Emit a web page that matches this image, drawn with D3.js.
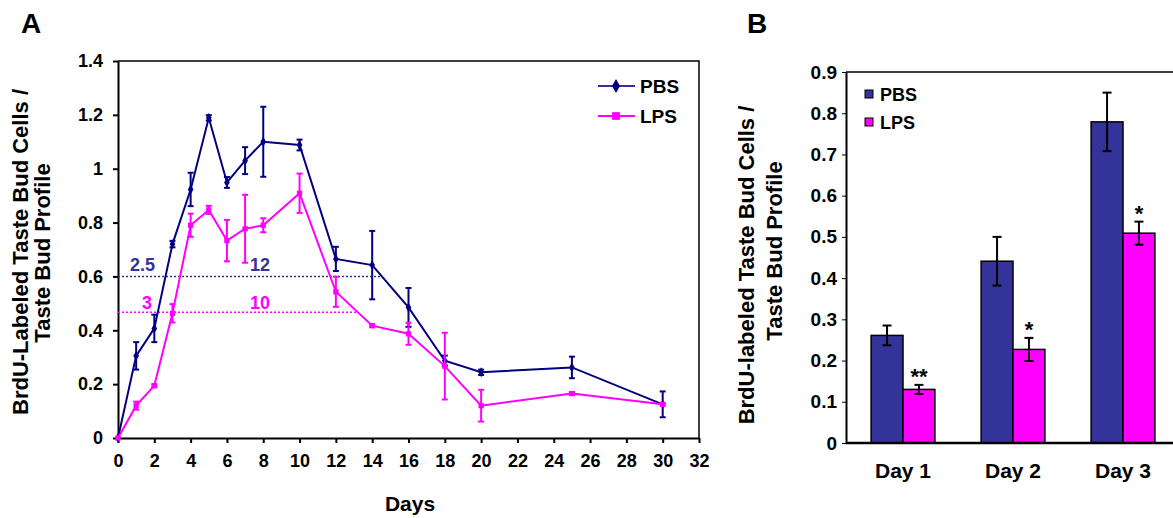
<!DOCTYPE html>
<html>
<head>
<meta charset="utf-8">
<script src="https://cdn.jsdelivr.net/npm/d3@7"></script>
<style>
  body { margin: 0; background: #fff; }
  svg { font-family: "Liberation Sans", Arial, Helvetica, sans-serif; font-weight: bold; }
  .axis path, .axis line { stroke: #000; }
</style>
</head>
<body>
<div id="chart"></div>
<script>
// panel A: time course
var daysA = [0, 1, 2, 3, 4, 5, 6, 7, 8, 10, 12, 14, 16, 18, 20, 25, 30];
var pbsMean = [0, 0.305, 0.407, 0.72, 0.923, 1.189, 0.949, 1.03, 1.10, 1.088, 0.665, 0.642, 0.485, 0.287, 0.244, 0.262, 0.125];
var pbsErr  = [0, 0.051, 0.051, 0.012, 0.062, 0.01, 0.02, 0.05, 0.13, 0.02, 0.045, 0.127, 0.072, 0.019, 0.01, 0.04, 0.048];
var lpsMean = [0, 0.12, 0.194, 0.463, 0.79, 0.847, 0.733, 0.777, 0.79, 0.909, 0.543, 0.417, 0.387, 0.267, 0.12, 0.165, 0.125];
var lpsErr  = [0, 0.015, 0.005, 0.034, 0.043, 0.015, 0.077, 0.126, 0.026, 0.073, 0.056, 0.005, 0.041, 0.124, 0.059, 0.005, 0.005];
var xTicksA = d3.range(0, 33, 2);
var yTicksA = [0, 0.2, 0.4, 0.6, 0.8, 1, 1.2, 1.4];
// half-max guide lines and their day labels
var halfLines = [
  {series: 'PBS', value: 0.6, endDay: 14.5, labels: [{text: '2.5', day: 0.66}, {text: '12', day: 7.27}]},
  {series: 'LPS', value: 0.467, endDay: 13.2, labels: [{text: '3', day: 1.32}, {text: '10', day: 7.27}]}
];

// panel B: bars
var daysB = ['Day 1', 'Day 2', 'Day 3'];
var seriesB = ['PBS', 'LPS'];
var pbsB = [0.261, 0.441, 0.779];
var pbsBErr = [0.024, 0.059, 0.071];
var lpsB = [0.13, 0.227, 0.509];
var lpsBErr = [0.011, 0.028, 0.028];
var starsB = ['**', '*', '*'];
var yTicksB = d3.range(0, 0.91, 0.1);

var colA = {PBS: '#000080', LPS: '#ff00ff'};
var colB = {PBS: '#333399', LPS: '#ff00ff'};
var guideCol = {PBS: '#333399', LPS: '#ff00ff'};

var svg = d3.select('#chart').append('svg')
  .attr('width', 1173)
  .attr('height', 518);

// ---------- panel A ----------
var xA = d3.scaleLinear().domain([0, 32]).range([118, 699]);
var yA = d3.scaleLinear().domain([0, 1.4]).range([438, 61]);

svg.append('text').attr('x', 21).attr('y', 33).attr('font-size', 28).text('A');

// box top/right
svg.append('path')
  .attr('d', 'M' + xA(0) + ',' + yA(1.4) + 'H' + xA(32) + 'V' + yA(0))
  .attr('fill', 'none').attr('stroke', '#000').attr('stroke-width', 1.5);

var axA = svg.append('g').attr('class', 'axis')
  .attr('transform', 'translate(0,' + yA(0) + ')')
  .call(d3.axisBottom(xA).tickValues(xTicksA).tickFormat(d3.format('d'))
    .tickSize(5).tickSizeOuter(0).tickPadding(11));
var ayA = svg.append('g').attr('class', 'axis')
  .attr('transform', 'translate(' + xA(0) + ',0)')
  .call(d3.axisLeft(yA).tickValues(yTicksA).tickFormat(function(d) { return d3.format('')(+d.toFixed(1)); })
    .tickSize(5).tickSizeOuter(0).tickPadding(10));
[axA, ayA].forEach(function(g) {
  g.selectAll('path').attr('stroke-width', 2);
  g.selectAll('line').attr('stroke-width', 2);
  g.selectAll('text').attr('font-size', 18).attr('font-family', null).attr('fill', '#000');
});

svg.append('text').attr('x', 410).attr('y', 511).attr('text-anchor', 'middle')
  .attr('font-size', 21).text('Days');
svg.append('text').attr('transform', 'translate(28,252) rotate(-90)').attr('text-anchor', 'middle')
  .attr('font-size', 22).text('BrdU-Labeled Taste Bud Cells /');
svg.append('text').attr('transform', 'translate(50,253) rotate(-90)').attr('text-anchor', 'middle')
  .attr('font-size', 22).text('Taste Bud Profile');

// guide lines
halfLines.forEach(function(h, i) {
  svg.append('line')
    .attr('x1', xA(0)).attr('x2', xA(h.endDay))
    .attr('y1', yA(h.value)).attr('y2', yA(h.value))
    .attr('stroke', guideCol[h.series]).attr('stroke-width', 1.5)
    .attr('stroke-dasharray', '2,2');
  h.labels.forEach(function(l) {
    svg.append('text').attr('x', xA(l.day)).attr('y', yA(h.value) - (i == 0 ? 5.5 : 3))
      .attr('fill', guideCol[h.series]).attr('font-size', 18).text(l.text);
  });
});

var line = d3.line().x(function(d) { return xA(d.day); }).y(function(d) { return yA(d.v); });

function drawSeries(name, means, errs, symbol) {
  var data = daysA.map(function(d, i) { return {day: d, v: means[i], e: errs[i]}; });
  var g = svg.append('g');
  g.append('path').datum(data).attr('d', line)
    .attr('fill', 'none').attr('stroke', colA[name]).attr('stroke-width', 2);
  var eb = g.selectAll('.err').data(data.filter(function(d) { return d.e > 0; })).enter().append('g');
  eb.append('line')
    .attr('x1', function(d) { return xA(d.day); }).attr('x2', function(d) { return xA(d.day); })
    .attr('y1', function(d) { return yA(d.v - d.e); }).attr('y2', function(d) { return yA(d.v + d.e); })
    .attr('stroke', colA[name]).attr('stroke-width', 2);
  [-1, 1].forEach(function(s) {
    eb.append('line')
      .attr('x1', function(d) { return xA(d.day) - 3; }).attr('x2', function(d) { return xA(d.day) + 3; })
      .attr('y1', function(d) { return yA(d.v + s * d.e); }).attr('y2', function(d) { return yA(d.v + s * d.e); })
      .attr('stroke', colA[name]).attr('stroke-width', 2);
  });
  g.selectAll('.pt').data(data).enter().append('path')
    .attr('transform', function(d) { return 'translate(' + xA(d.day) + ',' + yA(d.v) + ')'; })
    .attr('d', d3.symbol().type(symbol).size(28))
    .attr('fill', colA[name]);
}
drawSeries('PBS', pbsMean, pbsErr, d3.symbolDiamond);
drawSeries('LPS', lpsMean, lpsErr, d3.symbolSquare);

// legend A
[['PBS', d3.symbolDiamond, 86], ['LPS', d3.symbolSquare, 116]].forEach(function(l) {
  svg.append('line').attr('x1', 598).attr('x2', 635).attr('y1', l[2]).attr('y2', l[2])
    .attr('stroke', l[0] == 'PBS' ? '#333399' : colA.LPS).attr('stroke-width', 2);
  svg.append('path').attr('transform', 'translate(616,' + l[2] + ')')
    .attr('d', d3.symbol().type(l[1]).size(l[0] == 'PBS' ? 55 : 60)).attr('fill', colA[l[0]]);
  svg.append('text').attr('x', 640).attr('y', l[2] + 6.5).attr('font-size', 19).text(l[0]);
});

// ---------- panel B ----------
var x0 = d3.scaleBand().domain(daysB).range([848, 1178]).paddingInner(0.42).paddingOuter(0.21);
var x1 = d3.scaleBand().domain(seriesB).range([0, x0.bandwidth()]);
var yB = d3.scaleLinear().domain([0, 0.9]).range([443, 72]);

svg.append('text').attr('x', 747).attr('y', 33).attr('font-size', 28).text('B');

svg.append('line').attr('x1', 846).attr('x2', 1173).attr('y1', yB(0.9)).attr('y2', yB(0.9))
  .attr('stroke', '#000').attr('stroke-width', 1.5);

var barData = [];
daysB.forEach(function(d, i) {
  barData.push({day: d, s: 'PBS', v: pbsB[i], e: pbsBErr[i]});
  barData.push({day: d, s: 'LPS', v: lpsB[i], e: lpsBErr[i], star: starsB[i]});
});

svg.selectAll('.bar').data(barData).enter().append('rect')
  .attr('x', function(d) { return x0(d.day) + x1(d.s); })
  .attr('width', x1.bandwidth())
  .attr('y', function(d) { return yB(d.v); })
  .attr('height', function(d) { return yB(0) - yB(d.v); })
  .attr('fill', function(d) { return colB[d.s]; })
  .attr('stroke', '#000').attr('stroke-width', 1.5);

var ebB = svg.selectAll('.errb').data(barData).enter().append('g')
  .attr('transform', function(d) { return 'translate(' + (x0(d.day) + x1(d.s) + x1.bandwidth() / 2) + ',0)'; });
ebB.append('line').attr('x1', 0).attr('x2', 0)
  .attr('y1', function(d) { return yB(d.v - d.e); }).attr('y2', function(d) { return yB(d.v + d.e); })
  .attr('stroke', '#000').attr('stroke-width', 2);
[-1, 1].forEach(function(s) {
  ebB.append('line').attr('x1', -4.5).attr('x2', 4.5)
    .attr('y1', function(d) { return yB(d.v + s * d.e); }).attr('y2', function(d) { return yB(d.v + s * d.e); })
    .attr('stroke', '#000').attr('stroke-width', 2);
});
ebB.filter(function(d) { return d.star; }).append('text')
  .attr('text-anchor', 'middle').attr('y', function(d) { return yB(d.v + d.e) - 1; })
  .attr('font-size', 22).text(function(d) { return d.star; });

var axB = svg.append('g').attr('class', 'axis')
  .attr('transform', 'translate(0,' + yB(0) + ')')
  .call(d3.axisBottom(x0).tickSize(0).tickPadding(20));
axB.select('path').attr('d', 'M846,0H1173').attr('stroke-width', 2.5);
axB.selectAll('text').attr('font-size', 21).attr('font-family', null);

var ayB = svg.append('g').attr('class', 'axis')
  .attr('transform', 'translate(846,0)')
  .call(d3.axisLeft(yB).tickValues(yTicksB).tickFormat(function(d) { return d3.format('')(+d.toFixed(1)); })
    .tickSize(4).tickSizeOuter(0).tickPadding(5));
ayB.select('path').attr('stroke-width', 2);
ayB.selectAll('line').attr('stroke-width', 1);
ayB.selectAll('text').attr('font-size', 19).attr('font-family', null);

svg.append('text').attr('transform', 'translate(754,265) rotate(-90)').attr('text-anchor', 'middle')
  .attr('font-size', 22).text('BrdU-labeled Taste Bud Cells /');
svg.append('text').attr('transform', 'translate(782,251) rotate(-90)').attr('text-anchor', 'middle')
  .attr('font-size', 22).text('Taste Bud Profile');

// legend B
[['PBS', 94], ['LPS', 122]].forEach(function(l) {
  svg.append('rect').attr('x', 865).attr('y', l[1] - 4).attr('width', 8).attr('height', 8)
    .attr('fill', colB[l[0]]).attr('stroke', '#000').attr('stroke-width', 1);
  svg.append('text').attr('x', 880).attr('y', l[1] + 7).attr('font-size', 18).text(l[0]);
});
</script>
</body>
</html>
